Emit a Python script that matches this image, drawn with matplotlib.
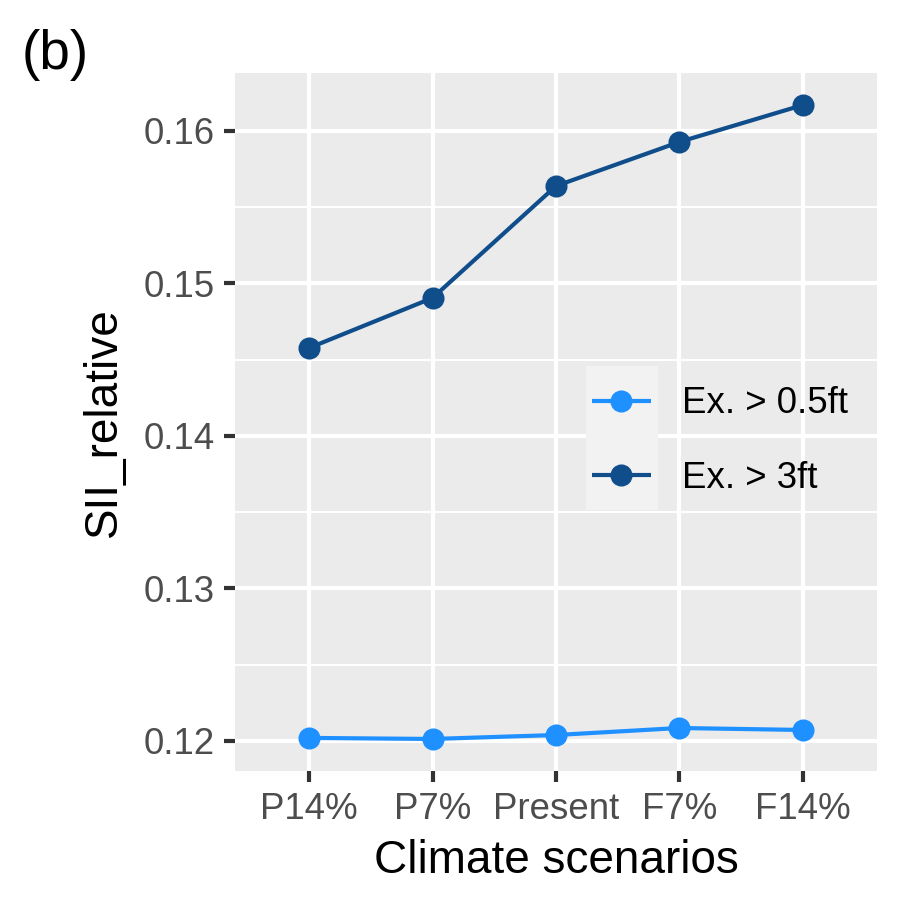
import matplotlib
matplotlib.use("Agg")
import matplotlib.pyplot as plt
from matplotlib.patches import Rectangle
from matplotlib.ticker import MultipleLocator

plt.rcParams['font.family'] = ['Liberation Sans', 'DejaVu Sans']

scenarios = ["P14%", "P7%", "Present", "F7%", "F14%"]
series_names = ["Ex. > 0.5ft", "Ex. > 3ft"]
ex_05ft = [0.12020, 0.12013, 0.12039, 0.12085, 0.12072]
ex_3ft = [0.14577, 0.14905, 0.15639, 0.15928, 0.16170]
colors = ["#1E90FF", "#104E8B"]

fig = plt.figure(figsize=(3, 3), dpi=300)
ax = fig.add_axes([235/900, 1-771/900, (877-235)/900, (771-73)/900])
ax.set_facecolor("#EBEBEB")
for s in ax.spines.values():
    s.set_visible(False)

x = list(range(len(scenarios)))
for vals, name, c in zip([ex_05ft, ex_3ft], series_names, colors):
    ax.plot(x, vals, color=c, lw=1.0, marker='o', ms=4.3, label=name,
            solid_capstyle='butt', zorder=3)

ax.set_xlim(-0.6, len(scenarios) - 1 + 0.6)
ax.set_ylim(0.11803, 0.1638)
ax.set_xticks(x)
ax.set_xticklabels(scenarios)
ax.yaxis.set_minor_locator(MultipleLocator(0.005))
ax.set_yticks([0.12, 0.13, 0.14, 0.15, 0.16])
ax.set_yticklabels(["0.12", "0.13", "0.14", "0.15", "0.16"])
ax.grid(which='major', color='white', lw=1.0)
ax.grid(which='minor', axis='y', color='white', lw=0.5)
ax.set_axisbelow(True)
ax.tick_params(which='major', length=2.75, width=1.0, color='#333333',
               labelsize=8.8, labelcolor='#4D4D4D', pad=2.2)
ax.tick_params(which='minor', length=0)

ax.set_xlabel("Climate scenarios", fontsize=11, color='black', labelpad=3)
ax.set_ylabel("SII_relative", fontsize=11, color='black', labelpad=4)

# legend key background
bg = Rectangle((586/900, 1-510/900), (658-586)/900, (510-366)/900,
               transform=fig.transFigure, facecolor='#F2F2F2',
               edgecolor='none', zorder=4, clip_on=False)
ax.add_patch(bg)
leg = ax.legend(loc='center left', bbox_to_anchor=(592/900, 1-441/900),
                bbox_transform=fig.transFigure, frameon=False, fontsize=8.8,
                handlelength=1.6, handletextpad=0.85, labelspacing=1.07,
                borderpad=0, borderaxespad=0)
leg.set_zorder(5)

fig.text(22/900, 1-55/900, "(b)", fontsize=13.2, ha='left', va='center')

fig.savefig("out.png", dpi=300)
